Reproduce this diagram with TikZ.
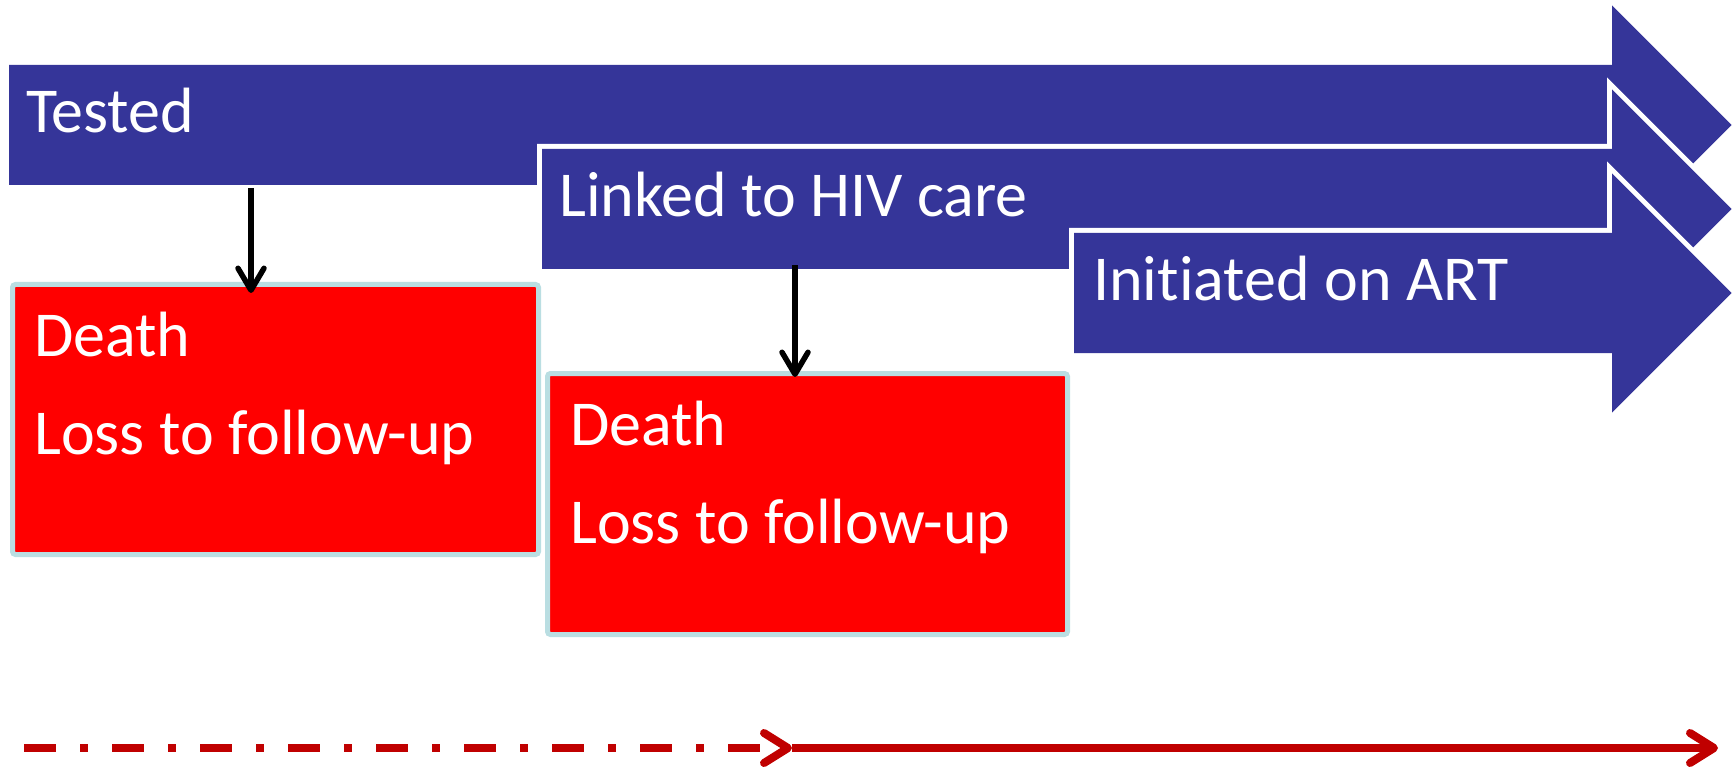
\documentclass[tikz,border=0pt]{standalone}
\usepackage{fontspec}
\setmainfont{Carlito}[RawFeature={-liga;-clig;-calt;-dlig}]
\usetikzlibrary{arrows.meta}

\definecolor{stageblue}{RGB}{53,53,153}
\definecolor{lossred}{RGB}{255,0,0}
\definecolor{lossedge}{RGB}{186,222,226}
\definecolor{timered}{RGB}{192,0,0}

\tikzset{
  stagearrow/.style={fill=stageblue, preaction={draw=white, line width=10pt, line join=miter}},
  stagelabel/.style={anchor=base west, inner sep=0pt, text=white, font=\fontsize{64pt}{77pt}\selectfont},
  lossbox/.style={draw=lossedge, line width=5pt, fill=lossred, rounded corners=3pt,
                  anchor=north west, inner sep=0pt, outer sep=0pt},
  drop/.style={draw=black, line width=5.5pt, -{Straight Barb[length=22pt,width=26pt,round]}},
  timeline/.style={draw=timered, line width=8pt, -{Straight Barb[length=24pt,width=30pt,round]}}
}

\begin{document}
\begin{tikzpicture}[x=1pt,y=-1pt]
\useasboundingbox (0,0) rectangle (1735,767);

% cascade of stages, each arrow laid over the previous one
\path[stagearrow] (9,65) -- (1612,65) -- (1612,5.5) -- (1731.5,125) -- (1612,244.5) -- (1612,185) -- (9,185) -- cycle;
\node[stagelabel] (tested) at (26,133) {Tested};

\path[stagearrow] (542,149) -- (1612,149) -- (1612,89.5) -- (1731.5,209) -- (1612,328.5) -- (1612,269) -- (542,269) -- cycle;
\node[stagelabel] (linked) at (559,217) {Linked to HIV care};

\path[stagearrow] (1074,233) -- (1612,233) -- (1612,173.5) -- (1731.5,293) -- (1612,412.5) -- (1612,353) -- (1074,353) -- cycle;
\node[stagelabel] (initiated) at (1093,301) {Init\kern0pt iated on ART};

% attrition boxes
\node[lossbox, minimum width=526pt, minimum height=270pt] (box1) at (12.5,284.5) {};
\node[stagelabel] (death1) at (34,356) {Death};
\node[stagelabel] (loss1) at (34,454) {Loss to follow-up};

\node[lossbox, minimum width=520pt, minimum height=261pt] (box2) at (547.5,373.5) {};
\node[stagelabel] (death2) at (570,445) {Death};
\node[stagelabel] (loss2) at (570,543) {Loss to follow-up};

% exits from the cascade
\coordinate (exit1) at (251,188);
\coordinate (exit2) at (795,265);
\draw[drop, shorten >=-8.5pt] (exit1) -- (exit1 |- box1.north);
\draw[drop, shorten >=-3.5pt] (exit2) -- (exit2 |- box2.north);

% time axis
\coordinate (t0) at (24,748);
\coordinate (t1) at (792,748);
\coordinate (t2) at (1718,748);
\draw[timeline, dash pattern=on 32pt off 24pt on 8pt off 24pt] (t0) -- (t1);
\draw[timeline] (t1) -- (t2);
\end{tikzpicture}
\end{document}
